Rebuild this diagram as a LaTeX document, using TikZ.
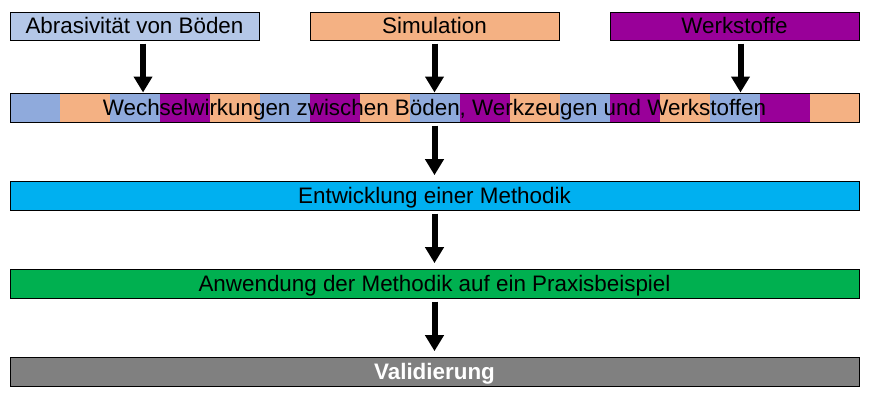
\documentclass[tikz,border=0pt]{standalone}
\usepackage{fontspec}
\setmainfont{Liberation Sans}
\usepackage{xcolor}
\usepackage{tikz}
\usetikzlibrary{positioning, arrows.meta}
\definecolor{bdBlue}{RGB}{180, 199, 231}
\definecolor{bdStripe}{RGB}{143, 170, 220}
\definecolor{bdSalmon}{RGB}{244, 177, 131}
\definecolor{bdPurple}{RGB}{153, 0, 153}
\definecolor{bdCyan}{RGB}{0, 176, 240}
\definecolor{bdGreen}{RGB}{0, 176, 80}
\definecolor{bdGray}{RGB}{128, 128, 128}
\tikzset{
    base/.style={
        font=\fontsize{16.8}{20}\selectfont,
        align=center,
        inner sep=0pt,
        text height=11.9pt,
        text depth=0pt
    },
    source/.style={
        base,
        rectangle,
        draw=black,
        line width=0.75pt,
        minimum width=186.75pt,
        minimum height=21pt
    },
    layer/.style={
        base,
        rectangle,
        draw=black,
        line width=0.75pt,
        minimum width=636.75pt,
        minimum height=21.75pt
    },
    flow/.style={
        -{Triangle[width=13.5pt, length=12pt]},
        line width=4.5pt,
        color=black
    }
}

\begin{document}
\begin{tikzpicture}[x=0.75pt, y=-0.75pt]
  \useasboundingbox (0,0) rectangle (869,408);

  % The three inputs
  \node[source, fill=bdBlue] (abrasion) at (134.5,26) {Abrasivität von Böden};
  \node[source, fill=bdSalmon] (simulation) at (434.5,26) {Simulation};
  \node[source, fill=bdPurple] (materials) at (734.5,26) {Werkstoffe};

  % The striped interaction bar
  \foreach \c [count=\i from 0] in {bdStripe, bdSalmon, bdStripe, bdPurple, bdSalmon,
      bdStripe, bdPurple, bdSalmon, bdStripe, bdPurple, bdSalmon, bdStripe, bdPurple,
      bdSalmon, bdStripe, bdPurple, bdSalmon}
    \fill[\c] (9.5+50*\i,93) rectangle ++(50,29);
  \node[layer] (interact) at (434.5,107.5) {Wechselwirkungen zwischen Böden, Werkzeugen und Werkstoffen};

  % The steps
  \node[layer, fill=bdCyan, below=43.5pt of interact] (method) {Entwicklung einer Methodik};
  \node[layer, fill=bdGreen, below=43.5pt of method] (practice) {Anwendung der Methodik auf ein Praxisbeispiel};
  \node[layer, fill=bdGray, text=white, font=\fontsize{16.8}{20}\selectfont\bfseries,
        below=43.5pt of practice] (valid) {Validierung};

  \draw[flow] ([xshift=6.4pt, yshift=-2.25pt]abrasion.south) -- ([xshift=6.4pt]abrasion.south |- interact.north);
  \draw[flow] ([yshift=-2.25pt]simulation.south) -- (simulation.south |- interact.north);
  \draw[flow] ([xshift=4.5pt, yshift=-2.25pt]materials.south) -- ([xshift=4.5pt]materials.south |- interact.north);

  \draw[flow, shorten <=2.25pt, shorten >=4pt] (interact) -- (method);
  \draw[flow, shorten <=2.25pt, shorten >=4pt] (method) -- (practice);
  \draw[flow, shorten <=2.25pt, shorten >=4pt] (practice) -- (valid);
\end{tikzpicture}
\end{document}
